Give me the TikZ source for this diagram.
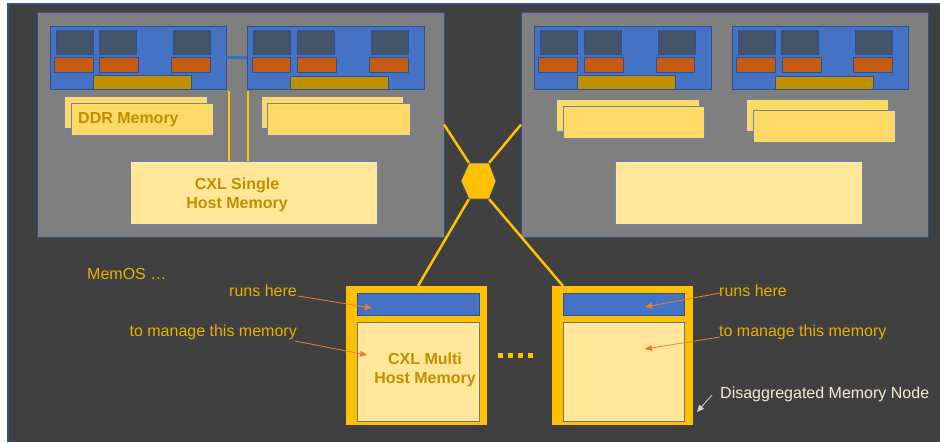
\documentclass[tikz,border=0pt]{standalone}
\usepackage{fontspec}
\setmainfont{Liberation Sans}
\usetikzlibrary{arrows.meta}
\definecolor{bgdark}{HTML}{404040}
\definecolor{edgeblue}{HTML}{2F528F}
\definecolor{hostgray}{HTML}{7F7F7F}
\definecolor{sockblue}{HTML}{4472C4}
\definecolor{coreslate}{HTML}{44546A}
\definecolor{cacheorange}{HTML}{C55A11}
\definecolor{golddark}{HTML}{BF9000}
\definecolor{dimmyellow}{HTML}{FFD966}
\definecolor{memlight}{HTML}{FFE699}
\definecolor{amber}{HTML}{FFC000}
\definecolor{labelgold}{HTML}{E8B000}
\definecolor{arroworange}{HTML}{ED7D31}
\definecolor{linkblue}{HTML}{2E75B6}
\definecolor{creamtxt}{HTML}{F2EAD3}
\newcommand{\mybox}[6]{\node[#1,anchor=north west,inner sep=0pt,outer sep=0pt,minimum width={#5-#3},minimum height={#6-#4}] (#2) at (#3,#4) {};}
\begin{document}
\begin{tikzpicture}[x=1pt,y=-1pt,
  host/.style={draw=edgeblue,fill=hostgray,line width=0.8pt},
  socket/.style={draw=edgeblue,fill=sockblue,line width=0.8pt},
  core/.style={draw=edgeblue,fill=coreslate,line width=0.6pt},
  cache/.style={draw=edgeblue,fill=cacheorange,line width=0.6pt},
  goldbar/.style={draw=edgeblue,fill=golddark,line width=0.6pt},
  dimm/.style={draw=edgeblue!70!white,fill=dimmyellow,line width=0.8pt},
  cxlmem/.style={draw=edgeblue!70!white,fill=memlight,line width=0.8pt},
  mnode/.style={fill=amber},
  bluebar/.style={draw=edgeblue,fill=sockblue,line width=0.6pt},
  innermem/.style={draw=coreslate!80!white,fill=memlight,line width=0.8pt},
  yline/.style={draw=amber,line width=2.5pt},
  link/.style={draw=linkblue,line width=2.5pt},
  dotsq/.style={fill=amber,inner sep=0pt,minimum size=5pt},
  lbl/.style={text=labelgold,inner sep=0pt,font=\fontsize{16}{19.5}\selectfont},
  cream/.style={text=creamtxt,inner sep=0pt,font=\fontsize{16}{19.5}\selectfont},
  boldtxt/.style={text=golddark,inner sep=0pt,font=\fontsize{16}{19.5}\selectfont\bfseries},
  oarrow/.style={draw=arroworange,line width=0.8pt,-{Triangle[length=7pt,width=6pt]}},
  warrow/.style={draw=creamtxt!80!gray,line width=0.8pt,-{Triangle[length=7pt,width=6pt]}}
]
\useasboundingbox (0,0) rectangle (940,442);
\fill[white] (0,0) rectangle (940,442);
\fill[bgdark] (8,4) rectangle (940,442);
\draw[edgeblue,line width=1.5pt] (8,442) -- (8,4) -- (940,4);

% hosts
\mybox{host}{hostL}{37}{12}{444}{237}
\mybox{host}{hostR}{521}{12}{928}{237}

% hexagon and links
\coordinate (hW) at (461,181);
\coordinate (hUL) at (469,163);
\coordinate (hUR) at (489,163);
\coordinate (hE) at (496,181);
\coordinate (hLR) at (489,199);
\coordinate (hLL) at (469,199);
\draw[yline] (hostL.east) -- (hUL);
\draw[yline] (hostR.west) -- (hUR);

% memory nodes
\mybox{mnode}{mnL}{346}{286}{487}{425}
\mybox{mnode}{mnR}{552}{286}{693}{425}
\draw[yline] (hLL) -- ([xshift=1.5pt]mnL.north);
\draw[yline] (hLR) -- ([xshift=11pt]mnR.north west);
\fill[amber,draw=edgeblue,line width=0.6pt] (hW) -- (hUL) -- (hUR) -- (hE) -- (hLR) -- (hLL) -- cycle;
\mybox{bluebar}{barL}{357}{293}{479}{315}
\mybox{innermem}{memL}{357}{322}{479}{421}
\mybox{bluebar}{barR}{563}{293}{684}{315}
\mybox{innermem}{memR}{563}{322}{684}{421}

% left host contents
\mybox{socket}{s1}{50}{26}{226}{89}
\mybox{socket}{s2}{247}{26}{424}{89}
\draw[link] (s1.east) -- (s2.west);
\mybox{core}{c11}{56}{30}{93}{54}
\mybox{core}{c12}{99}{30}{136}{54}
\mybox{core}{c13}{173}{30}{210}{54}
\mybox{cache}{o11}{54}{57}{93}{72}
\mybox{cache}{o12}{99}{57}{138}{72}
\mybox{cache}{o13}{171}{57}{210}{72}
\mybox{goldbar}{g1}{93}{75}{191}{89}
\mybox{core}{c21}{253}{30}{290}{54}
\mybox{core}{c22}{297}{30}{334}{54}
\mybox{core}{c23}{371}{30}{408}{54}
\mybox{cache}{o21}{252}{57}{290}{72}
\mybox{cache}{o22}{297}{57}{336}{72}
\mybox{cache}{o23}{369}{57}{408}{72}
\mybox{goldbar}{g2}{290}{76}{388}{89}
\mybox{dimm}{dA1}{64}{96}{207}{128}
\mybox{dimm}{dA2}{71}{103}{213}{135}
\mybox{dimm}{dB1}{261}{96}{403}{128}
\mybox{dimm}{dB2}{267}{103}{410}{135}
\node[boldtxt,anchor=west] (ddrtxt) at (78,120) {DDR Memory};
\mybox{cxlmem}{cxlL}{130}{161}{377}{224}
\draw[yline] ([xshift=3pt,yshift=-2pt]s1.south east) -- ([xshift=3pt]s1.south east |- cxlL.north);
\draw[yline] ([xshift=1pt,yshift=-2pt]s2.south west) -- ([xshift=1pt]s2.south west |- cxlL.north);
\node[boldtxt,align=center] (cxltxt) at (237,195) {CXL Single\\Host Memory};

% right host contents
\mybox{socket}{s3}{534}{26}{711}{89}
\mybox{socket}{s4}{732}{26}{908}{89}
\mybox{core}{c31}{540}{30}{577}{54}
\mybox{core}{c32}{584}{30}{621}{54}
\mybox{core}{c33}{658}{30}{695}{54}
\mybox{cache}{o31}{538}{57}{577}{72}
\mybox{cache}{o32}{584}{57}{623}{72}
\mybox{cache}{o33}{656}{57}{694}{72}
\mybox{goldbar}{g3}{577}{75}{675}{89}
\mybox{core}{c41}{738}{30}{775}{54}
\mybox{core}{c42}{781}{30}{818}{54}
\mybox{core}{c43}{855}{30}{892}{54}
\mybox{cache}{o41}{736}{57}{775}{72}
\mybox{cache}{o42}{782}{57}{821}{72}
\mybox{cache}{o43}{853}{57}{892}{72}
\mybox{goldbar}{g4}{775}{76}{873}{89}
\mybox{dimm}{dC1}{556}{99}{699}{131}
\mybox{dimm}{dC2}{563}{106}{704}{138}
\mybox{dimm}{dD1}{746}{99}{888}{131}
\mybox{dimm}{dD2}{753}{110}{895}{142}
\mybox{cxlmem}{cxlR}{615}{161}{862}{224}

% node text
\node[boldtxt,align=center] (multitxt) at (425,370) {CXL Multi\\Host Memory};

% dots
\node[dotsq] (dt1) at (500,355.5) {};
\node[dotsq] (dt2) at (510,355.5) {};
\node[dotsq] (dt3) at (520,355.5) {};
\node[dotsq] (dt4) at (530,355.5) {};

% labels
\node[lbl,anchor=west] (memos) at (87,274) {MemOS …};
\node[lbl,anchor=east] (runsL) at (297,291) {runs here};
\node[lbl,anchor=east] (mngL) at (297,332) {to manage this memory};
\node[lbl,anchor=west] (runsR) at (719,291) {runs here};
\node[lbl,anchor=west] (mngR) at (719,332) {to manage this memory};
\node[cream,anchor=west] (dmn) at (720,394) {Disaggregated Memory Node};

\coordinate (tL1) at (372,308);
\coordinate (tL2) at (367,355);
\coordinate (tR1) at (645,307);
\coordinate (tR2) at (645,349);
\coordinate (tD) at (697,412);
\draw[oarrow] ([xshift=1pt,yshift=-5pt]runsL.east) -- (tL1);
\draw[oarrow] ([xshift=-2pt,yshift=-9pt]mngL.east) -- (tL2);
\draw[oarrow] ([xshift=1pt,yshift=-2pt]runsR.west) -- (tR1);
\draw[oarrow] ([xshift=1pt,yshift=-5pt]mngR.west) -- (tR2);
\draw[warrow] ([xshift=-8pt,yshift=-1pt]dmn.west) -- (tD);
\end{tikzpicture}
\end{document}
